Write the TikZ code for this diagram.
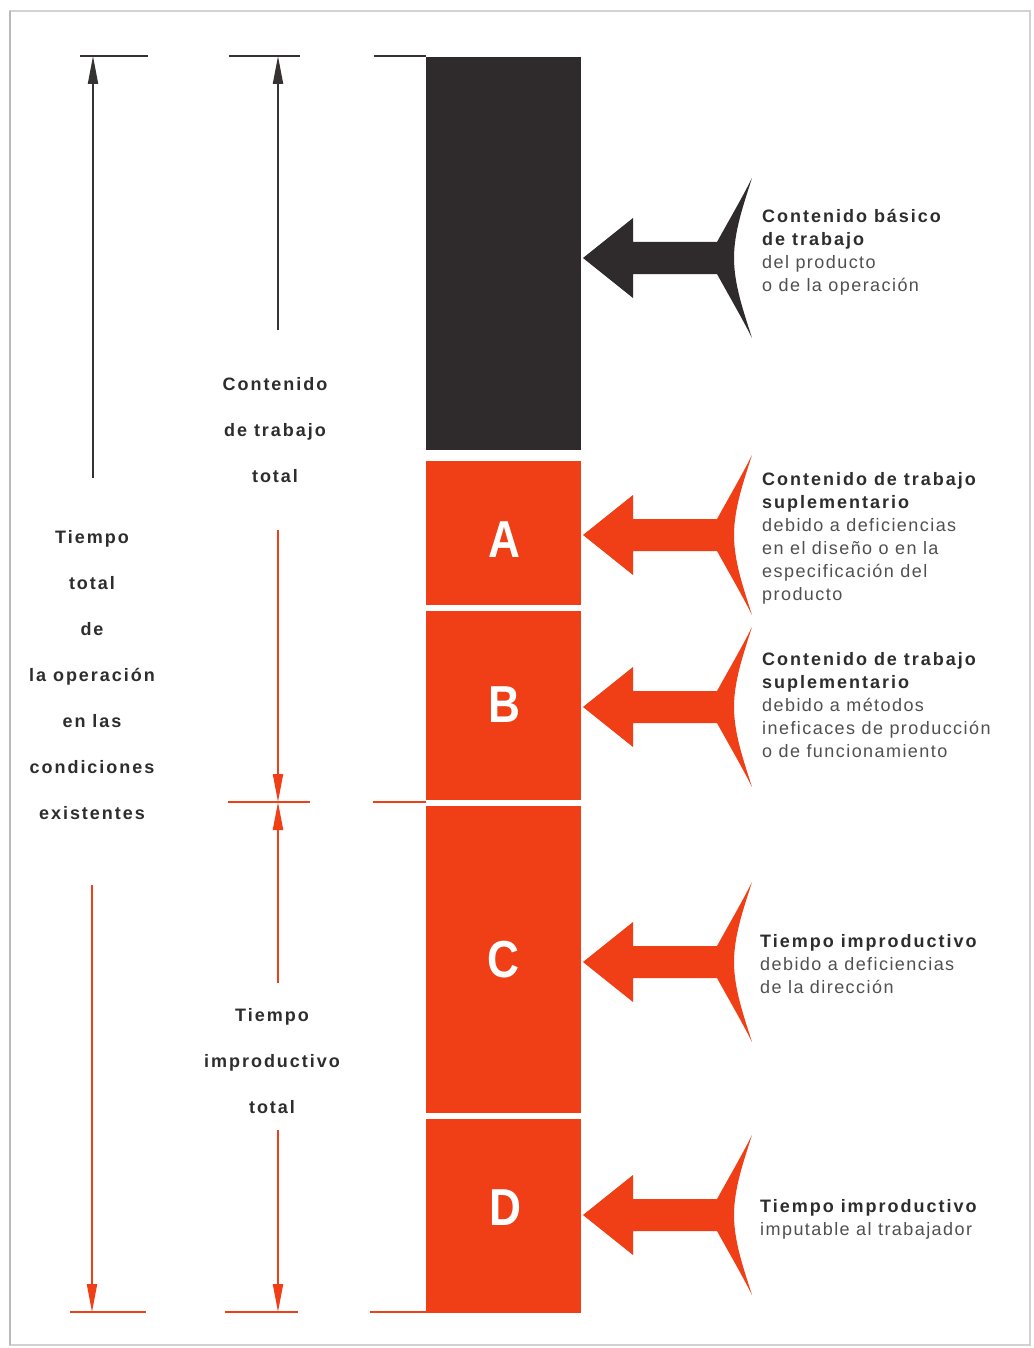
\documentclass[tikz,border=0pt]{standalone}
\usepackage{fontspec}
\setmainfont{Liberation Sans}
\newfontfamily\boldfam{Liberation Sans}[LetterSpace=11]
\newfontfamily\regfam{Liberation Sans}[LetterSpace=8]
\usetikzlibrary{arrows.meta}
\definecolor{barred}{RGB}{240,62,22}
\definecolor{barblack}{RGB}{47,42,43}
\definecolor{tbold}{RGB}{45,45,45}
\definecolor{treg}{RGB}{80,80,80}
\definecolor{dimblack}{RGB}{55,50,50}
\newcommand\txb{\boldfam\bfseries\color{tbold}}
\newcommand\txr{\regfam\color{treg}}
\newcommand\bigarr[2]{%
  \fill[#2] (583,#1) -- (633,#1-40) -- (633,#1-16) -- (717,#1-16)
    .. controls (728,#1-36) and (742,#1-60) .. (752,#1-80)
    .. controls (743,#1-52) and (734,#1-26) .. (734,#1)
    .. controls (734,#1+26) and (743,#1+52) .. (752,#1+80)
    .. controls (742,#1+60) and (728,#1+36) .. (717,#1+16)
    -- (633,#1+16) -- (633,#1+40) -- cycle;}
\tikzset{
  dimline/.style={line width=2pt},
  tickline/.style={line width=2pt},
  dimtip/.style={-{Triangle[length=28pt,width=10pt]}},
  rtext/.style={anchor=north west, inner sep=0pt, align=left, font=\fontsize{18}{23}\selectfont},
  ltext/.style={anchor=north, inner sep=0pt, align=center, font=\fontsize{18}{46}\selectfont},
  letter/.style={text=white, font=\fontsize{52}{52}\selectfont\bfseries, xscale=0.85, inner sep=0pt},
}
\begin{document}
\begin{tikzpicture}[x=1pt,y=-1pt]
\useasboundingbox (0,0) rectangle (1033,1348);
\fill[white] (0,0) rectangle (1033,1348);
% frame
\draw[gray!35, line width=1.5pt] (10,11) rectangle (1030,1345);
\draw[gray!55, line width=1.5pt] (10,11) -- (10,1345);
% bars
\fill[barblack] (426,57) rectangle (581,450);
\fill[barred] (426,461) rectangle (581,605);
\fill[barred] (426,611) rectangle (581,800);
\fill[barred] (426,806) rectangle (581,1113);
\fill[barred] (426,1119) rectangle (581,1313);
% letters
\node[letter] (la) at (504,540) {A};
\node[letter] (lb) at (504,705) {B};
\node[letter] (lc) at (503,960) {C};
\node[letter] (ld) at (505,1208) {D};
% ticks
\coordinate (t1a) at (80,56); \coordinate (t1b) at (148,56);
\coordinate (t2a) at (229,56); \coordinate (t2b) at (300,56);
\coordinate (t3a) at (374,56); \coordinate (t3b) at (426,56);
\draw[tickline, dimblack] (t1a) -- (t1b);
\draw[tickline, dimblack] (t2a) -- (t2b);
\draw[tickline, dimblack] (t3a) -- (t3b);
\coordinate (m1a) at (228,802); \coordinate (m1b) at (310,802);
\coordinate (m2a) at (373,802); \coordinate (m2b) at (426,802);
\draw[tickline, barred] (m1a) -- (m1b);
\draw[tickline, barred] (m2a) -- (m2b);
\coordinate (b1a) at (70,1312); \coordinate (b1b) at (146,1312);
\coordinate (b2a) at (225,1312); \coordinate (b2b) at (298,1312);
\coordinate (b3a) at (370,1312); \coordinate (b3b) at (426,1312);
\draw[tickline, barred] (b1a) -- (b1b);
\draw[tickline, barred] (b2a) -- (b2b);
\draw[tickline, barred] (b3a) -- (b3b);
% dimension lines
\coordinate (d1s) at (93,478); \coordinate (d1e) at (93,56);
\draw[dimline, dimtip, dimblack] (d1s) -- (d1e);
\coordinate (d2s) at (92,885); \coordinate (d2e) at (92,1312);
\draw[dimline, dimtip, barred] (d2s) -- (d2e);
\coordinate (d3s) at (278,330); \coordinate (d3e) at (278,56);
\draw[dimline, dimtip, dimblack] (d3s) -- (d3e);
\coordinate (d4s) at (278,530); \coordinate (d4e) at (278,802);
\draw[dimline, dimtip, barred] (d4s) -- (d4e);
\coordinate (d5s) at (278,983); \coordinate (d5e) at (278,802);
\draw[dimline, dimtip, barred] (d5s) -- (d5e);
\coordinate (d6s) at (278,1130); \coordinate (d6e) at (278,1312);
\draw[dimline, dimtip, barred] (d6s) -- (d6e);
% big arrows
\bigarr{258}{barblack}
\bigarr{535}{barred}
\bigarr{707}{barred}
\bigarr{962}{barred}
\bigarr{1215}{barred}
% left labels
\node[ltext] (lab1) at (92,530.5) {\txb Tiempo\\\txb total\\\txb de\\\txb la operación\\\txb en las\\\txb condiciones\\\txb existentes};
\node[ltext] (lab2) at (275,377.5) {\txb Contenido\\\txb de trabajo\\\txb total};
\node[ltext] (lab3) at (272,1008.5) {\txb Tiempo\\\txb improductivo\\\txb total};
% right texts
\node[rtext] (r1) at (762,209.5) {\txb Contenido básico\\\txb de trabajo\\\txr del producto\\\txr o de la operación};
\node[rtext] (r2) at (762,472.5) {\txb Contenido de trabajo\\\txb suplementario\\\txr debido a deficiencias\\\txr en el diseño o en la\\\txr especificación del\\\txr producto};
\node[rtext] (r3) at (762,652.5) {\txb Contenido de trabajo\\\txb suplementario\\\txr debido a métodos\\\txr ineficaces de producción\\\txr o de funcionamiento};
\node[rtext] (r4) at (760,934.5) {\txb Tiempo improductivo\\\txr debido a deficiencias\\\txr de la dirección};
\node[rtext] (r5) at (760,1199.5) {\txb Tiempo improductivo\\\txr imputable al trabajador};
\end{tikzpicture}
\end{document}
